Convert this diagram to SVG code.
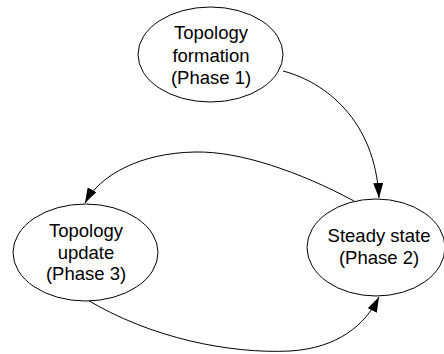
<svg xmlns="http://www.w3.org/2000/svg" width="444" height="354" viewBox="0 0 444 354">
  <style>
    .node ellipse { fill: #ffffff; stroke: #000000; stroke-width: 1; }
    .node text { font-family: "Liberation Sans", Arial, sans-serif; font-size: 18.5px; fill: #000000; text-anchor: middle; }
    .edge { fill: none; stroke: #000000; stroke-width: 1; marker-end: url(#arrow); }
  </style>
  <defs>
    <marker id="arrow" markerWidth="15" markerHeight="10" refX="15" refY="5" orient="auto" markerUnits="userSpaceOnUse">
      <path d="M0,0 L15,5 L0,10 Z" fill="#000000"/>
    </marker>
  </defs>
  <rect width="444" height="354" fill="#ffffff"/>

  <g id="connectors">
    <path class="edge" d="M283,71 C325,82 375,120 379,198"/>
    <path class="edge" d="M354,201 C300,172 240,151 195,152 C140,153 100,175 85,203"/>
    <path class="edge" d="M86,299 C150,338 230,354 290,351 C338,348 365,325 379,297"/>
  </g>

  <g id="phase1" class="node">
    <ellipse cx="210.5" cy="54.5" rx="72.5" ry="47.5"/>
    <text x="211" y="39">Topology</text>
    <text x="211" y="62">formation</text>
    <text x="211" y="84">(Phase 1)</text>
  </g>

  <g id="phase3" class="node">
    <ellipse cx="85.5" cy="252.5" rx="72.5" ry="48.5"/>
    <text x="86" y="237">Topology</text>
    <text x="86" y="259">update</text>
    <text x="86" y="280">(Phase 3)</text>
  </g>

  <g id="phase2" class="node">
    <ellipse cx="376" cy="247.5" rx="69" ry="48.5"/>
    <text x="379" y="242">Steady state</text>
    <text x="379" y="264">(Phase 2)</text>
  </g>
</svg>
